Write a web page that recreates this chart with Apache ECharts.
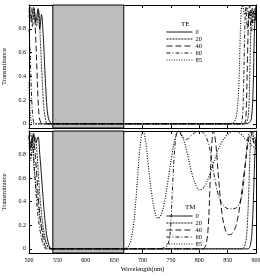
<!DOCTYPE html>
<html>
<head>
<meta charset="utf-8">
<script src="https://cdn.jsdelivr.net/npm/echarts@6/dist/echarts.min.js"></script>
<style>
  html, body { margin: 0; padding: 0; background: #fff; }
  #chart { width: 260px; height: 276px; }
</style>
</head>
<body>
<div id="chart"></div>
<script>
// angles (deg) shown in the legends
var angles = ['0', '20', '40', '60', '85'];
var xTicks = [500, 550, 600, 650, 700, 750, 800, 850, 900];
var yTicks = [0, 0.2, 0.4, 0.6, 0.8];
// photonic band gap (shaded), nm
var gapBand = [542, 667];

// TE transmittance, [wavelength nm, T]
var te0 = [[500,0.97],[504,0.9],[508,0.98],[512,0.86],[516,0.97],[519,0.8],[522,0.92],[525,0.75],[528,0.45],[531,0.18],[534,0.05],[538,0.01],[542,0],[860,0],[880,0],[888,0.01],[892,0.05],[895,0.3],[897,0.75],[899,0.95],[900,1]];
var te20 = [[500,0.95],[505,0.85],[509,0.97],[513,0.82],[517,0.95],[520,0.7],[523,0.4],[526,0.15],[529,0.04],[533,0],[860,0],[878,0],[884,0.02],[887,0.1],[889,0.4],[891,0.8],[893,0.97],[896,0.85],[900,0.95]];
var te40 = [[500,0.9],[503,0.98],[506,0.82],[509,0.92],[512,0.7],[514,0.45],[516,0.2],[518,0.06],[521,0.01],[525,0],[860,0],[876,0],[881,0.02],[883,0.15],[885,0.55],[887,0.9],[889,1],[893,0.85],[897,0.97],[900,0.9]];
var te60 = [[500,0.8],[502,0.6],[504,0.3],[506,0.1],[508,0.02],[511,0],[860,0],[872,0],[876,0.05],[878,0.3],[880,0.75],[882,0.98],[885,0.8],[888,0.95],[892,0.78],[896,0.95],[900,0.85]];
var te85 = [[500,0.35],[502,0.1],[504,0.02],[507,0],[850,0],[860,0.01],[864,0.04],[867,0.12],[870,0.35],[872,0.7],[874,0.95],[876,1],[880,0.92],[884,0.98],[888,0.88],[893,0.97],[900,0.9]];

// TM transmittance, [wavelength nm, T]
var tm0 = [[500,0.96],[504,0.88],[508,0.98],[512,0.9],[516,0.95],[519,0.8],[522,0.62],[525,0.42],[528,0.25],[531,0.12],[534,0.05],[537,0.01],[541,0],[870,0],[886,0],[890,0.03],[893,0.15],[896,0.5],[898,0.8],[900,0.95]];
var tm20 = [[500,0.92],[503,0.98],[507,0.85],[511,0.95],[514,0.82],[517,0.6],[520,0.4],[524,0.22],[528,0.1],[532,0.03],[537,0],[860,0],[876,0],[881,0.04],[884,0.15],[887,0.45],[889,0.75],[891,0.95],[894,1],[897,0.9],[900,0.93]];
var tm40 = [[500,0.97],[503,0.86],[507,0.97],[511,0.8],[514,0.6],[517,0.4],[520,0.24],[524,0.11],[528,0.03],[533,0],[790,0],[806,0],[812,0.04],[816,0.2],[819,0.55],[822,0.88],[825,1],[829,0.9],[834,0.6],[840,0.3],[846,0.16],[852,0.12],[858,0.13],[865,0.2],[872,0.38],[880,0.68],[886,0.9],[891,1],[896,0.9],[900,0.87]];
var tm60 = [[500,0.95],[503,0.83],[506,0.93],[509,0.72],[512,0.5],[515,0.32],[519,0.17],[523,0.07],[527,0.01],[531,0],[725,0],[738,0.01],[745,0.04],[749,0.15],[752,0.43],[756,0.8],[760,0.98],[764,1],[770,0.95],[778,0.93],[788,0.97],[798,1],[808,0.98],[816,0.9],[822,0.75],[828,0.58],[836,0.42],[844,0.36],[852,0.34],[860,0.34],[868,0.36],[875,0.45],[881,0.7],[886,0.95],[890,1],[895,0.93],[900,0.97]];
var tm85 = [[500,0.9],[503,0.75],[506,0.88],[509,0.68],[513,0.5],[517,0.34],[522,0.2],[527,0.09],[532,0.03],[537,0.005],[542,0],[660,0],[672,0.01],[678,0.05],[684,0.2],[689,0.45],[694,0.78],[698,0.96],[701,1],[705,0.93],[710,0.72],[716,0.47],[722,0.31],[727,0.26],[732,0.28],[738,0.38],[745,0.58],[752,0.8],[758,0.95],[764,1],[770,0.96],[778,0.83],[786,0.66],[794,0.54],[800,0.5],[808,0.52],[816,0.6],[826,0.74],[838,0.89],[850,0.97],[862,1],[872,0.98],[882,0.93],[892,0.88],[900,0.85]];

var teData = [te0, te20, te40, te60, te85];
var tmData = [tm0, tm20, tm40, tm60, tm85];

var font = 'Liberation Serif';
var lineTypes = ['solid', [2, 1], [6, 3], [4, 2, 1, 2], [1, 1.5]];
var lineWidths = [0.9, 0.8, 0.9, 0.9, 1.1];

var chart = echarts.init(document.getElementById('chart'), null, {renderer: 'canvas'});

function xAxisFor(grid, pos, showLabel) {
    return {
        type: 'value', gridIndex: grid, position: pos,
        min: 500, max: 900, interval: 50,
        axisLine: {show: true, onZero: false, lineStyle: {color: '#000', width: 1}},
        axisTick: {show: true, inside: true, length: 3, lineStyle: {color: '#000'}},
        axisLabel: {show: showLabel, color: '#000', fontSize: 6, fontFamily: font, margin: 4},
        splitLine: {show: false},
        name: showLabel ? 'Wavelength(nm)' : '',
        nameLocation: 'middle', nameGap: 13,
        nameTextStyle: {color: '#000', fontSize: 6.5, fontFamily: font}
    };
}

function yAxisFor(grid, pos, showLabel) {
    return {
        type: 'value', gridIndex: grid, position: pos,
        min: -0.035, max: 1,
        axisLine: {show: true, onZero: false, lineStyle: {color: '#000', width: 1}},
        axisTick: {show: true, inside: true, length: 3, customValues: yTicks, lineStyle: {color: '#000'}},
        axisLabel: {show: showLabel, customValues: yTicks, color: '#000', fontSize: 6, fontFamily: font, margin: 3,
            formatter: function (v) { return v === 0 ? '0' : String(Math.round(v * 10) / 10); }},
        splitLine: {show: false},
        name: showLabel ? 'Transmittance' : '',
        nameLocation: 'middle', nameGap: 19, nameRotate: 90,
        nameTextStyle: {color: '#000', fontSize: 6.5, fontFamily: font}
    };
}

var series = [];
// shaded band gap in both panels
[0, 1].forEach(function (g) {
    series.push({
        type: 'line', xAxisIndex: g * 2, yAxisIndex: g * 2, data: [], silent: true, z: 1,
        markArea: {
            silent: true,
            itemStyle: {color: '#bdbdbd', borderColor: '#000', borderWidth: 1},
            data: [[{xAxis: gapBand[0]}, {xAxis: gapBand[1]}]]
        }
    });
});
[teData, tmData].forEach(function (set, g) {
    set.forEach(function (d, i) {
        series.push({
            name: angles[i], type: 'line', xAxisIndex: g * 2, yAxisIndex: g * 2,
            data: d, symbol: 'none', smooth: 0.35, clip: true, z: 3,
            lineStyle: {color: '#000', width: lineWidths[i], type: lineTypes[i]},
            itemStyle: {color: '#000'}
        });
    });
});

function legendAt(top) {
    return {
        data: angles, orient: 'vertical', left: 166, top: top, padding: 0,
        itemWidth: 26, itemHeight: 5, itemGap: 0, selectedMode: false,
        itemStyle: {opacity: 0, borderWidth: 0},
        lineStyle: {width: 0.9},
        textStyle: {color: '#000', fontSize: 6.5, fontFamily: font, padding: [0, 0, 0, -2]}
    };
}

chart.setOption({
    backgroundColor: '#fff',
    animation: false,
    title: [
        {text: 'TE', left: 176, top: 16, textStyle: {color: '#000', fontSize: 7, fontWeight: 'normal', fontFamily: font}},
        {text: 'TM', left: 180, top: 199, textStyle: {color: '#000', fontSize: 7, fontWeight: 'normal', fontFamily: font}}
    ],
    legend: [legendAt(28.5), legendAt(212.5)],
    grid: [
        {left: 29, right: 4, top: 5, height: 123, outerBoundsMode: 'none'},
        {left: 29, right: 4, top: 131, height: 122, outerBoundsMode: 'none'}
    ],
    xAxis: [
        xAxisFor(0, 'bottom', false), xAxisFor(0, 'top', false),
        xAxisFor(1, 'bottom', true), xAxisFor(1, 'top', false)
    ],
    yAxis: [
        yAxisFor(0, 'left', true), yAxisFor(0, 'right', false),
        yAxisFor(1, 'left', true), yAxisFor(1, 'right', false)
    ],
    series: series
});
</script>
</body>
</html>
